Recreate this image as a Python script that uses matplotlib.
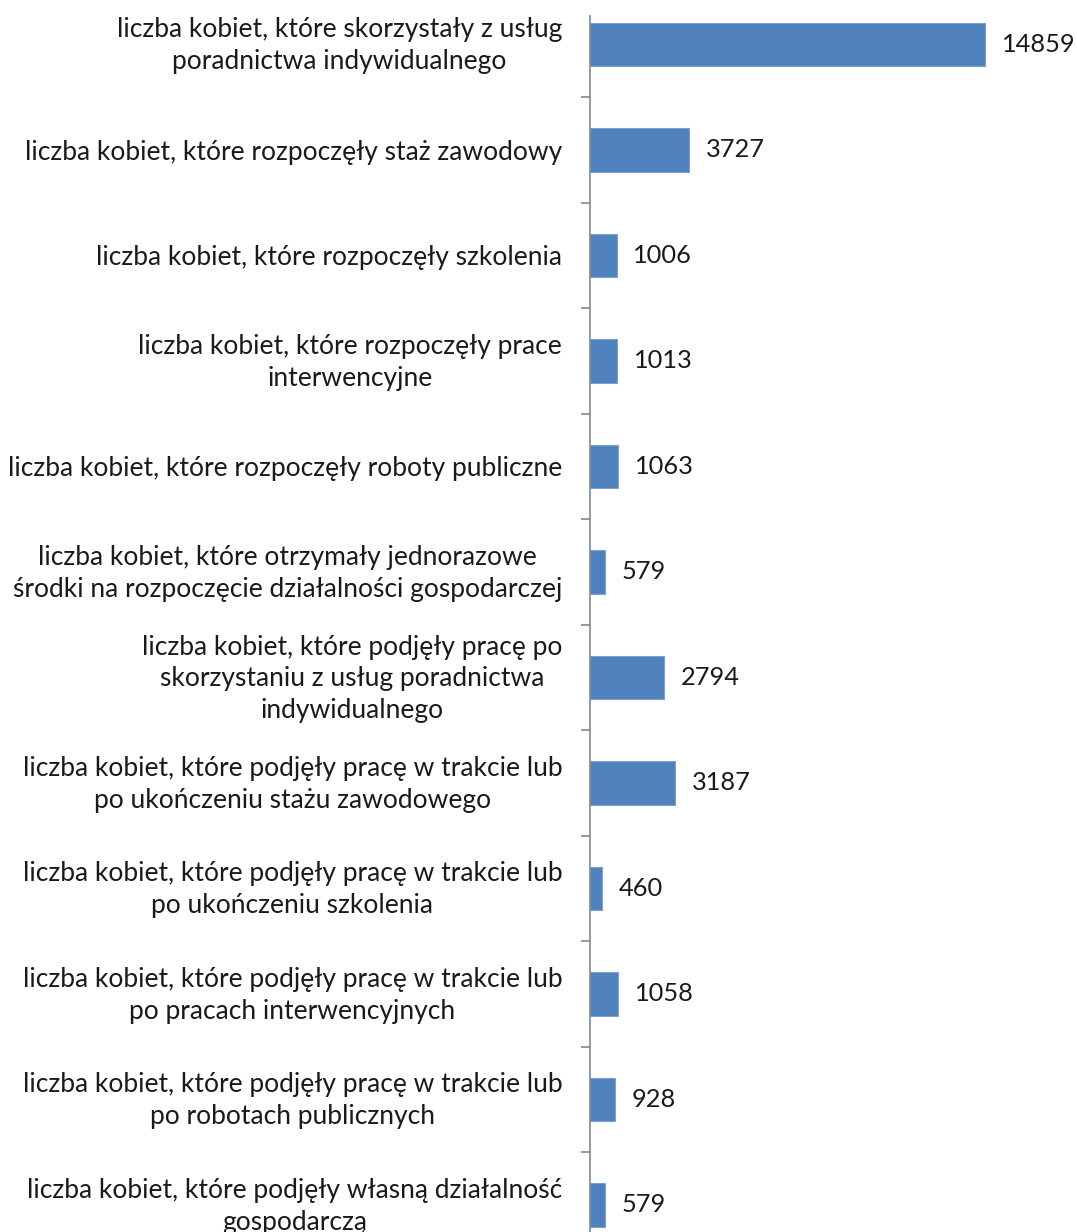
import matplotlib
matplotlib.use("Agg")
import matplotlib.pyplot as plt
import matplotlib.transforms as mtransforms

plt.rcParams["font.family"] = ["Lato", "DejaVu Sans"]

categories = [
    "liczba kobiet, które skorzystały z usług\nporadnictwa indywidualnego",
    "liczba kobiet, które rozpoczęły staż zawodowy",
    "liczba kobiet, które rozpoczęły szkolenia",
    "liczba kobiet, które rozpoczęły prace\ninterwencyjne",
    "liczba kobiet, które rozpoczęły roboty publiczne",
    "liczba kobiet, które otrzymały jednorazowe\nśrodki na rozpoczęcie działalności gospodarczej",
    "liczba kobiet, które podjęły pracę po\nskorzystaniu z usług poradnictwa\nindywidualnego",
    "liczba kobiet, które podjęły pracę w trakcie lub\npo ukończeniu stażu zawodowego",
    "liczba kobiet, które podjęły pracę w trakcie lub\npo ukończeniu szkolenia",
    "liczba kobiet, które podjęły pracę w trakcie lub\npo pracach interwencyjnych",
    "liczba kobiet, które podjęły pracę w trakcie lub\npo robotach publicznych",
    "liczba kobiet, które podjęły własną działalność\ngospodarczą",
]
values = [14859, 3727, 1006, 1013, 1063, 579, 2794, 3187, 460, 1058, 928, 579]

W, H = 1077, 1232
fig = plt.figure(figsize=(W / 100, H / 100), dpi=100)
ax = fig.add_axes([590 / W, 0, 1 - 590 / W, 1 - 16 / H])

pos = list(range(len(values)))
ax.barh(pos, values, height=0.41, color="#4F81BD", edgecolor="#7DA0CF", linewidth=0.8)

ax.set_xlim(0, 18320)
ax.set_ylim(11.256, -0.27)

for spine in ["top", "right", "bottom"]:
    ax.spines[spine].set_visible(False)
ax.spines["left"].set_color("#868686")
ax.spines["left"].set_linewidth(1.2)
ax.set_xticks([])

# category labels centred on bars, tick marks between categories
ax.set_yticks(pos)
ax.set_yticklabels(categories, fontsize=19, color="#1a1a1a",
                   multialignment="center", linespacing=1.33)
ax.tick_params(axis="y", which="major", length=0, pad=20)
ax.set_yticks([p + 0.5 for p in pos[:-1]], minor=True)
ax.tick_params(axis="y", which="minor", length=6.5, width=1.2, color="#868686")

# multi-line labels sit a little high in the original
shift = mtransforms.ScaledTranslation(0, 0.045, fig.dpi_scale_trans)
for lab in ax.get_yticklabels():
    if "\n" in lab.get_text():
        lab.set_transform(lab.get_transform() + shift)

for p, v in zip(pos, values):
    ax.annotate(str(v), (v, p), xytext=(12, 0), textcoords="offset points",
                va="center", ha="left", fontsize=18.3, color="#1a1a1a")

fig.savefig("out.png", dpi=100)
